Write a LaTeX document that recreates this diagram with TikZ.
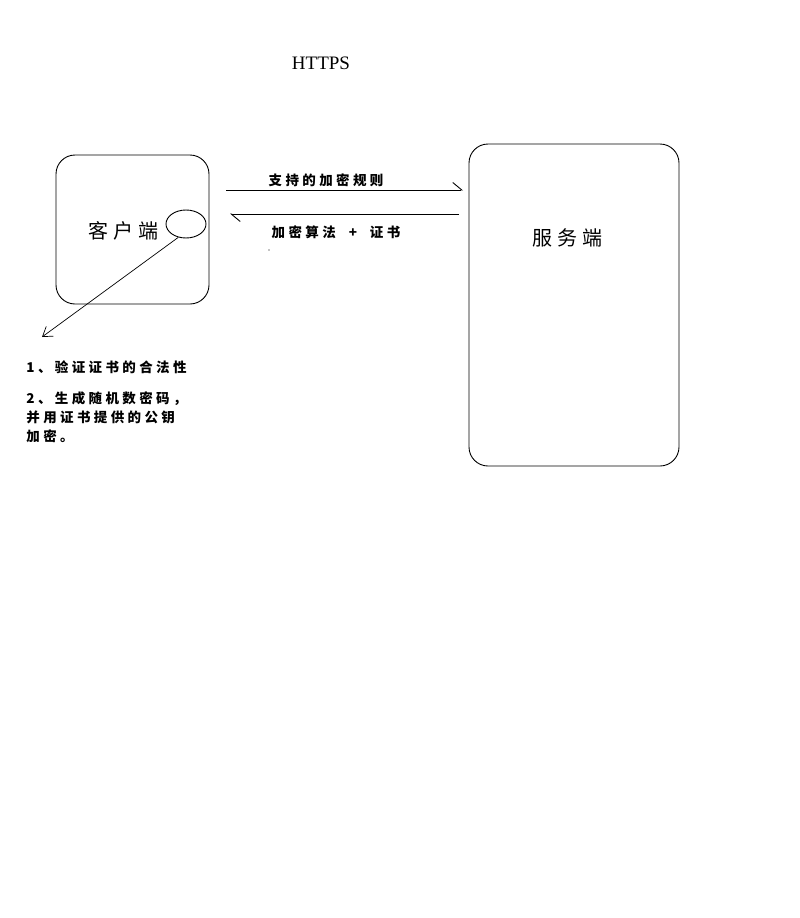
\documentclass[tikz,border=0pt]{standalone}
\usepackage{fontspec}
\setmainfont{Liberation Serif}
\newfontfamily\cjk[LetterSpace=25]{Noto Sans CJK SC}
\usepackage{tikz}
\usetikzlibrary{arrows.meta,shapes.geometric}
\usetikzlibrary{positioning}

\begin{document}
\begin{tikzpicture}[x=1pt,y=-1pt,line width=0.9pt,
    box/.style={draw,rounded corners=19pt,inner sep=0pt},
    oval/.style={draw,ellipse,minimum width=40pt,minimum height=28pt,inner sep=0pt},
    big/.style={font=\cjk\fontsize{20}{24}\selectfont},
    msg/.style={font=\cjk\bfseries\fontsize{13.5}{19}\selectfont,inner sep=0pt},
    harp/.style={-{Straight Barb[left,length=9pt,width=15pt]}},
    tip/.style={-{Straight Barb[length=9pt,width=12pt]}}]
  \useasboundingbox (0,0) rectangle (800,918);
  % Title
  \node[font=\fontsize{19}{22}\selectfont] (title) at (321,63) {HTTPS};
  % The two parties
  \node[box,minimum width=153pt,minimum height=149pt] (client) at (132.5,229.5) {};
  \node[box,minimum width=210pt,minimum height=322pt] (server) at (574,305) {};
  \node[big] (clientname) at (123,231) {客户端};
  \node[big] (servername) at (567,238) {服务端};
  \node[oval] (cert) at (186,224) {};
  % Messages between client and server
  \coordinate (hello s) at (226,190);
  \coordinate (hello e) at (463,190);
  \coordinate (reply s) at (459,214);
  \coordinate (reply e) at (230,214);
  \draw[harp] (hello s) -- (hello e);
  \draw[harp] (reply s) -- (reply e);
  \node[msg] (hello) at (326,180) {支持的加密规则};
  \node[msg] (reply) at (336,232) {加密算法\ \ +\ \ 证书};
  \fill (269,250) circle (0.7pt);
  % What the client does with the certificate
  \coordinate (check) at (42,337);
  \draw[tip,line width=0.7pt] (cert.240) -- (check);
  \node[msg,anchor=west] (step1) at (26,367) {1、验证证书的合法性};
  \node[msg,anchor=north west,align=left] (step2) at (26,391)
    {2、生成随机数密码，\\并用证书提供的公钥\\加密。};
\end{tikzpicture}
\end{document}
